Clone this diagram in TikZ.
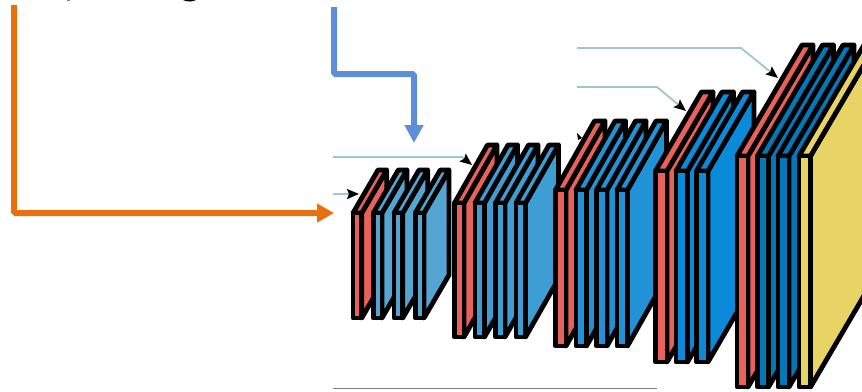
\documentclass[tikz,border=0pt]{standalone}
\usetikzlibrary{arrows.meta}
\definecolor{redS}{HTML}{E8615A}
\definecolor{blueA}{HTML}{55A5D3}
\definecolor{blueB}{HTML}{3E9ED4}
\definecolor{blueC}{HTML}{2292D6}
\definecolor{blueD}{HTML}{0A8AD8}
\definecolor{blueE}{HTML}{0378B8}
\definecolor{yellowS}{HTML}{E8D365}
\definecolor{tealL}{HTML}{9CCBBB}
\definecolor{orangeL}{HTML}{E9700F}
\definecolor{blueL}{HTML}{5B90D6}
\tikzset{
  slabline/.style={draw=black,line width=4.8pt,line join=round},
  leader/.style={draw=tealL,line width=1.8pt,-{Stealth[black,length=12pt,width=10pt,inset=2pt]}},
  bigorange/.style={draw=orangeL,line width=6pt,rounded corners=1.5pt,-{Triangle[length=17pt,width=18pt]}},
  bigblue/.style={draw=blueL,line width=6pt,rounded corners=1.5pt,-{Triangle[length=18pt,width=18pt]}}
}
% \slabrow{colour}{left x}{width}{top y}{bottom y}{depth x}{depth y}
\newcommand\slabrow[7]{%
  \path[slabline,fill=#1] (#2+#3,#4) -- (#2+#3+#6,#4-#7) -- (#2+#3+#6,#5-#7) -- (#2+#3,#5) -- cycle;
  \path[slabline,fill=#1] (#2,#4) -- (#2+#6,#4-#7) -- (#2+#3+#6,#4-#7) -- (#2+#3,#4) -- cycle;
  \path[slabline,fill=#1] (#2,#4) rectangle (#2+#3,#5);
}
\begin{document}
\begin{tikzpicture}[x=1pt,y=-1pt]
\useasboundingbox (0,0) rectangle (862,391);
\clip (0,0) rectangle (862,391);
\coordinate (oa) at (14,5);
\coordinate (ob) at (14,213);
\coordinate (oc) at (334,213);
\coordinate (ba) at (334,7);
\coordinate (bb) at (334,74);
\coordinate (bc) at (414,74);
\coordinate (bd) at (414,143);
\coordinate (la) at (333,157);
\coordinate (lb) at (462,157);
\coordinate (lc) at (472,165);
\coordinate (ma) at (333,194);
\coordinate (mb) at (359,194);
\coordinate (na) at (577,48);
\coordinate (nb) at (741,48);
\coordinate (nc) at (778,78);
\coordinate (pa) at (577,87);
\coordinate (pb) at (657,87);
\coordinate (pc) at (686,111);
\coordinate (ra) at (333,388.5);
\coordinate (rb) at (657,388.5);
\draw[bigorange] (oa) -- (ob) -- (oc);
\draw[bigblue] (ba) -- (bb) -- (bc) -- (bd);
\draw[leader] (la) -- (lb) -- (lc);
\draw[leader] (ma) -- (mb);
\draw[leader] (na) -- (nb) -- (nc);
\draw[leader] (pa) -- (pb) -- (pc);
\draw[gray,line width=1.5pt] (ra) -- (rb);
\fill[black] (577,133) -- (582,138) -- (578,140) -- cycle;
\fill[black] (183,0) -- (196,0) .. controls (193,2) and (186,2) .. cycle;
\fill[gray] (67,0) rectangle (70,1);
% group 1
\slabrow{redS}{353}{8.7}{213}{318}{25}{43}
\slabrow{blueA}{373.3}{8.7}{213}{318}{25}{43}
\slabrow{blueA}{394}{8.7}{213}{318}{25}{43}
\slabrow{blueA}{415.3}{8.7}{213}{318}{25}{43}
% group 2
\slabrow{redS}{454.5}{9.5}{203}{337}{33}{58}
\slabrow{blueB}{475}{9.5}{203}{337}{33}{58}
\slabrow{blueB}{495.5}{9.5}{203}{337}{33}{58}
\slabrow{blueB}{516}{9.5}{203}{337}{33}{58}
% group 3
\slabrow{redS}{555.5}{10.5}{190}{346}{39}{69}
\slabrow{blueC}{576}{10.5}{190}{346}{39}{69}
\slabrow{blueC}{596.5}{10.5}{190}{346}{39}{69}
\slabrow{blueC}{617}{10.5}{190}{346}{39}{69}
% group 4
\slabrow{redS}{655.5}{11.5}{171}{362}{46}{79}
\slabrow{blueD}{676}{11.5}{171}{362}{46}{79}
\slabrow{blueD}{696.5}{11.5}{171}{362}{46}{79}
% group 5
\slabrow{redS}{737}{11}{156}{387}{65}{111}
\slabrow{blueE}{757.5}{11}{156}{387}{65}{111}
\slabrow{blueE}{778}{11}{156}{387}{65}{111}
\slabrow{yellowS}{799}{11.5}{156}{387}{65}{111}
\end{tikzpicture}
\end{document}
